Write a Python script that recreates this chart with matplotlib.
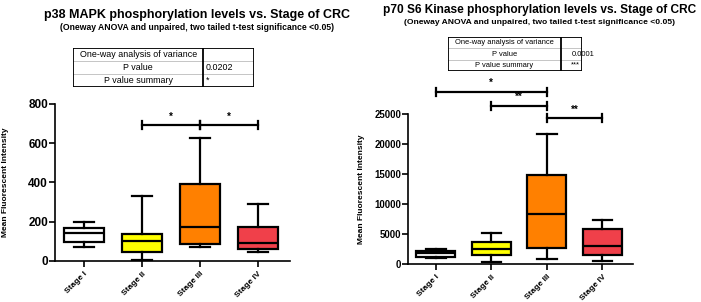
import matplotlib
matplotlib.use("Agg")
import matplotlib.pyplot as plt
from matplotlib.lines import Line2D

plt.rcParams['font.family'] = ['Liberation Sans', 'DejaVu Sans']

stages = ['Stage I', 'Stage II', 'Stage III', 'Stage IV']
box_colors = ['#FFFFFF', '#FFFF00', '#FF8000', '#F0404A']

# p38 MAPK: (whisker low, q1, median, q3, whisker high)
p38_whislo = [70, 4, 72, 44]
p38_q1 = [95, 43, 84, 60]
p38_med = [142, 102, 170, 92]
p38_q3 = [166, 135, 390, 172]
p38_whishi = [199, 332, 628, 288]

# p70 S6 kinase
p70_whislo = [950, 230, 730, 400]
p70_q1 = [1170, 1400, 2670, 1400]
p70_med = [1730, 2450, 8250, 3010]
p70_q3 = [2120, 3680, 14760, 5740]
p70_whishi = [2455, 5080, 21600, 7300]

p38_anova = ['0.0202', '*']
p70_anova = ['0.0001', '***']

# brackets: (from, to, height, label)
p38_sig = [(1, 2, 693, '*'), (2, 3, 693, '*')]
p70_sig = [(0, 2, 28720, '*'), (1, 2, 26390, '**'), (2, 3, 24280, '**')]


def draw_boxes(ax, lo, q1, med, q3, hi, ymax, step, ytick_size, ylab_x):
    stats = []
    for i in range(len(stages)):
        stats.append(dict(whislo=lo[i], q1=q1[i], med=med[i], q3=q3[i],
                          whishi=hi[i], fliers=[]))
    lw = 1.6
    bp = ax.bxp(stats, positions=range(len(stages)), widths=0.7,
                patch_artist=True, showfliers=False,
                boxprops=dict(linewidth=lw, edgecolor='black'),
                medianprops=dict(linewidth=lw, color='black'),
                whiskerprops=dict(linewidth=lw, color='black'),
                capprops=dict(linewidth=lw, color='black'))
    for patch, c in zip(bp['boxes'], box_colors):
        patch.set_facecolor(c)
    ax.set_xlim(-0.5, 3.55)
    ax.set_ylim(0, ymax)
    ax.set_yticks(range(0, ymax + 1, step))
    ax.set_xticks(range(len(stages)))
    ax.set_xticklabels(stages, rotation=45, ha='right', rotation_mode='anchor',
                       fontsize=6, fontweight='bold')
    for lab in ax.get_yticklabels():
        lab.set_fontweight('bold')
        lab.set_fontsize(ytick_size)
    ax.tick_params(axis='y', length=4, width=1.2, pad=1)
    ax.tick_params(axis='x', length=4, width=1.2, pad=3)
    for s in ['top', 'right']:
        ax.spines[s].set_visible(False)
    for s in ['left', 'bottom']:
        ax.spines[s].set_linewidth(1.2)
    ax.set_ylabel('Mean Fluorescent Intensity', fontsize=6, fontweight='bold')
    ax.yaxis.set_label_coords(ylab_x, 0.5)


def draw_sig(ax, sig, tick, star_off):
    for x0, x1, y, lab in sig:
        ax.plot([x0, x1], [y, y], color='black', lw=1.6, clip_on=False)
        for x in (x0, x1):
            ax.plot([x, x], [y - tick, y + tick], color='black', lw=1.6, clip_on=False)
        ax.text((x0 + x1) / 2, y + star_off, lab, ha='center', va='bottom',
                fontsize=7, fontweight='bold')


def draw_table(fig, rect, split, values, fsize, val_off):
    tax = fig.add_axes(rect)
    tax.set_xlim(0, 1)
    tax.set_ylim(0, 3)
    tax.axis('off')
    rows = ['One-way analysis of variance', 'P value', 'P value summary']
    vals = [''] + list(values)
    for i in range(3):
        y = 2.5 - i
        tax.text(split / 2, y, rows[i], ha='center', va='center', fontsize=fsize)
        tax.text(split + val_off, y, vals[i], ha='left', va='center', fontsize=fsize)
    for y in (1, 2):
        tax.add_line(Line2D([0, 1], [y, y], color='#BBBBBB', lw=0.6))
    tax.add_line(Line2D([split, split], [0, 3], color='black', lw=1.3))
    tax.add_line(Line2D([0, 1, 1, 0, 0], [0, 0, 3, 3, 0], color='black', lw=1.3))


fig = plt.figure(figsize=(7.01, 3.02), dpi=100)

ax1 = fig.add_axes([55 / 701, 41.3 / 302, 235 / 701, 156.7 / 302])
draw_boxes(ax1, p38_whislo, p38_q1, p38_med, p38_q3, p38_whishi, 800, 200, 8.5, -0.196)
draw_sig(ax1, p38_sig, 20, 16)

ax2 = fig.add_axes([408 / 701, 38.3 / 302, 225 / 701, 149.7 / 302])
draw_boxes(ax2, p70_whislo, p70_q1, p70_med, p70_q3, p70_whishi, 25000, 5000, 6.9, -0.191)
draw_sig(ax2, p70_sig, 650, 650)

fig.text(197 / 701, 1 - 15 / 302, 'p38 MAPK phosphorylation levels vs. Stage of CRC',
         ha='center', va='center', fontsize=9, fontweight='bold')
fig.text(197 / 701, 1 - 28 / 302,
         '(Oneway ANOVA and unpaired, two tailed t-test significance <0.05)',
         ha='center', va='center', fontsize=6.2, fontweight='bold')
fig.text(540 / 701, 1 - 10 / 302, 'p70 S6 Kinase phosphorylation levels vs. Stage of CRC',
         ha='center', va='center', fontsize=8.6, fontweight='bold')
fig.text(540 / 701, 1 - 22 / 302,
         '(Oneway ANOVA and unpaired, two tailed t-test significance <0.05)',
         ha='center', va='center', fontsize=6.1, fontweight='bold')

draw_table(fig, [73 / 701, 1 - 87 / 302, 181 / 701, 39 / 302], 0.72, p38_anova, 6.4, 0.015)
draw_table(fig, [448 / 701, 1 - 71 / 302, 134 / 701, 34 / 302], 0.84, p70_anova, 5.4, 0.08)

fig.savefig('out.png', dpi=100)
